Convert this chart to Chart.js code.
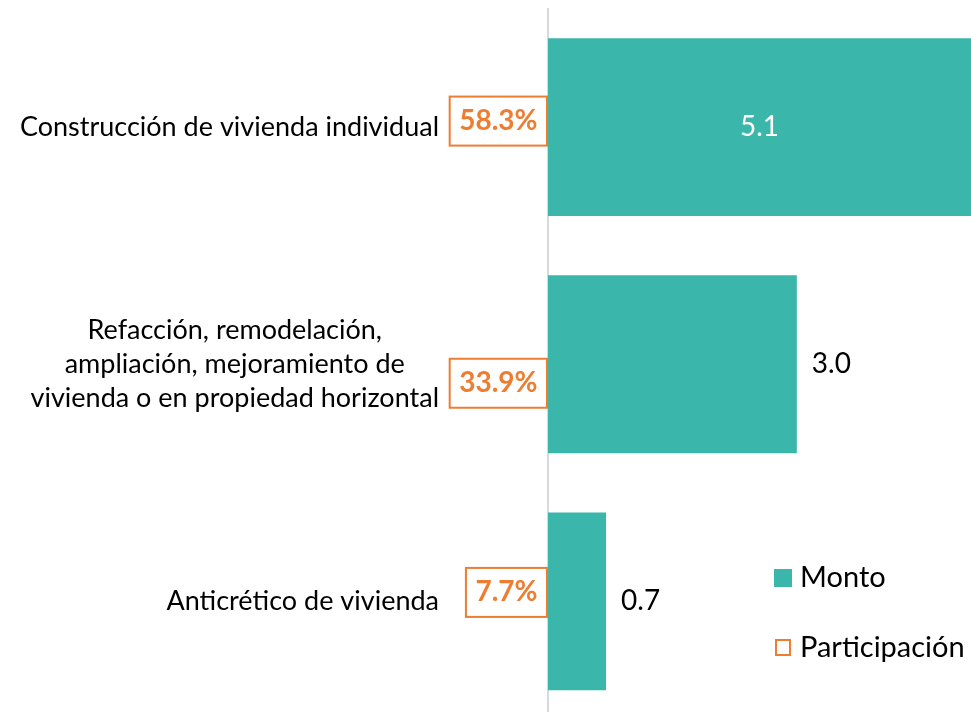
<!DOCTYPE html>
<html>
<head>
<meta charset="utf-8">
<script src="https://cdn.jsdelivr.net/npm/chart.js@4"></script>
<style>
  html, body { margin: 0; padding: 0; background: #fff; overflow: hidden; }
  #wrap { width: 971px; height: 720px; position: relative; }
</style>
</head>
<body>
<div id="wrap"><canvas id="chart"></canvas></div>
<script>
const categories = [
  ["Construcción de vivienda individual"],
  ["Refacción, remodelación,", "ampliación, mejoramiento de", "vivienda o en propiedad horizontal"],
  ["Anticrético de vivienda"]
];
const monto = [5.1, 3.0, 0.7];
const participacion = [58.3, 33.9, 7.7];
const legendLabels = ["Monto", "Participación"];

const TEAL = '#3BB6AB';
const ORANGE = '#ED7D31';
const FONT = 'Lato, "Noto Sans", sans-serif';

// labels, percentage boxes, value labels, legend
const overlay = {
  id: 'overlay',
  afterDatasetsDraw(chart) {
    const ctx = chart.ctx;
    const yScale = chart.scales.y;
    const meta = chart.getDatasetMeta(0);
    const axisX = chart.chartArea.left;
    const boxShift = [-6, 19, -9]; // box offset from bar centre

    ctx.save();
    ctx.textBaseline = 'middle';

    categories.forEach((lines, i) => {
      const cy = yScale.getPixelForValue(i);
      const lineH = 34;

      // category label: block right aligned, lines centered
      ctx.font = '27px ' + FONT;
      ctx.fillStyle = '#000';
      const widest = Math.max(...lines.map(l => ctx.measureText(l).width));
      const blockCenter = 439 - widest / 2;
      ctx.textAlign = 'center';
      lines.forEach((l, k) => {
        const y = cy + (k - (lines.length - 1) / 2) * lineH;
        ctx.fillText(l, blockCenter, y);
      });

      // participation box
      const boxY = cy + boxShift[i];
      ctx.font = 'bold 28px ' + FONT;
      const txt = participacion[i].toFixed(1) + '%';
      const tw = ctx.measureText(txt).width;
      const bw = tw + 19, bh = 49;
      const bx = axisX - 1 - bw;
      ctx.strokeStyle = ORANGE;
      ctx.lineWidth = 2;
      ctx.strokeRect(bx, boxY - bh / 2, bw, bh);
      ctx.fillStyle = ORANGE;
      ctx.fillText(txt, bx + bw / 2, boxY);

      // value label
      const bar = meta.data[i];
      ctx.font = '28px ' + FONT;
      const val = monto[i].toFixed(1);
      if (i === 0) {
        ctx.fillStyle = '#fff';
        ctx.textAlign = 'center';
        ctx.fillText(val, (axisX + bar.x) / 2, cy);
      } else {
        ctx.fillStyle = '#000';
        ctx.textAlign = 'left';
        ctx.fillText(val, bar.x + 15, cy);
      }
    });

    // legend
    ctx.textAlign = 'left';
    ctx.font = '29px ' + FONT;
    ctx.fillStyle = TEAL;
    ctx.fillRect(774, 569, 18, 18);
    ctx.fillStyle = '#000';
    ctx.fillText(legendLabels[0], 800, 578);
    ctx.strokeStyle = ORANGE;
    ctx.lineWidth = 2;
    ctx.strokeRect(776, 640, 14, 15);
    ctx.fillText(legendLabels[1], 800, 648);

    ctx.restore();
  }
};

new Chart(document.getElementById('chart'), {
  type: 'bar',
  data: {
    labels: categories,
    datasets: [{
      label: legendLabels[0],
      data: monto,
      backgroundColor: TEAL,
      barPercentage: 0.75,
      categoryPercentage: 1
    }]
  },
  options: {
    indexAxis: 'y',
    responsive: true,
    maintainAspectRatio: false,
    animation: false,
    layout: { padding: { top: 8.5, right: 0, bottom: 0, left: 0 } },
    plugins: {
      legend: { display: false },
      tooltip: { enabled: false }
    },
    scales: {
      x: { display: false, min: 0, max: 5.1 },
      y: {
        ticks: { display: false },
        grid: { display: false },
        border: { display: true, color: '#D9D9D9', width: 2 },
        afterFit(scale) { scale.width = 548; }
      }
    }
  },
  plugins: [overlay]
});
</script>
</body>
</html>
